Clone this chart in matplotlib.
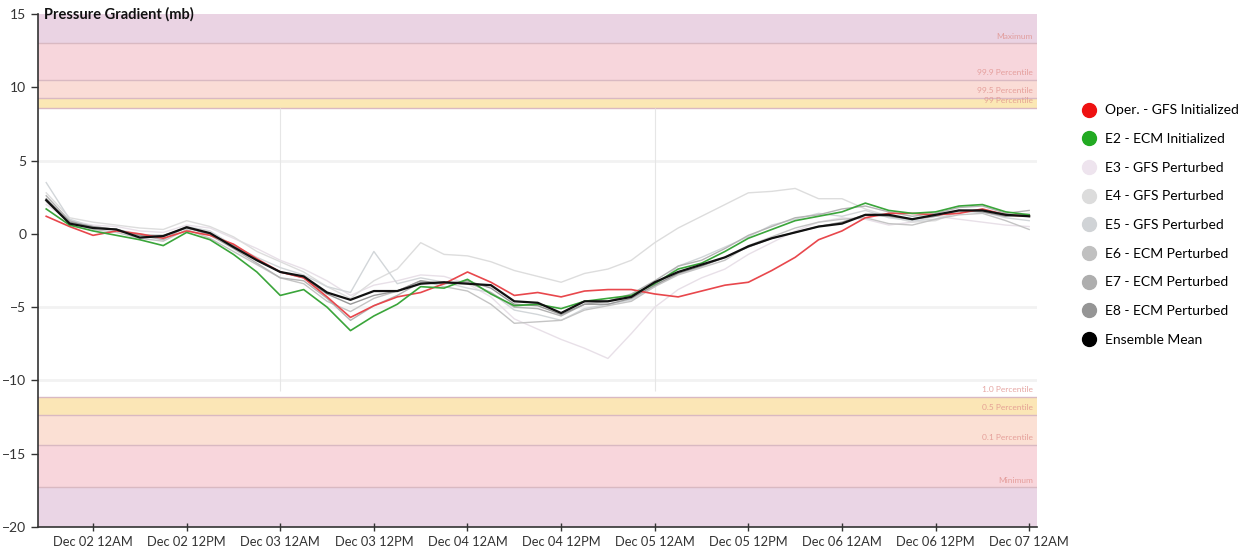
import numpy as np
import matplotlib.pyplot as plt
from matplotlib.lines import Line2D

plt.rcParams['font.family'] = ['Lato', 'DejaVu Sans']

# time axis: hours from Dec 02 00:00, 3-hourly
hours = list(range(-6, 121, 3))

oper_gfs = [1.2, 0.5, -0.1, 0.2, 0.0, -0.3, 0.2, -0.1, -0.7, -1.7, -2.6, -3.0, -4.3, -5.7,
            -4.9, -4.3, -4.0, -3.4, -2.6, -3.3, -4.2, -4.0, -4.3, -3.9, -3.8, -3.8, -4.1,
            -4.3, -3.9, -3.5, -3.3, -2.5, -1.6, -0.4, 0.2, 1.1, 1.4, 1.4, 1.3, 1.4, 1.7, 1.3, 1.2]
e2_ecm = [1.7, 0.6, 0.2, -0.1, -0.4, -0.8, 0.1, -0.4, -1.4, -2.6, -4.2, -3.8, -5.0, -6.6,
          -5.6, -4.8, -3.6, -3.7, -3.1, -4.1, -4.9, -4.8, -5.1, -4.6, -4.4, -4.2, -3.4,
          -2.4, -2.0, -1.2, -0.3, 0.3, 0.9, 1.2, 1.5, 2.1, 1.6, 1.4, 1.5, 1.9, 2.0, 1.5, 1.3]
e3_gfs = [2.0, 0.9, 0.6, 0.5, 0.2, 0.1, 0.6, 0.4, -0.3, -1.0, -1.8, -2.4, -3.2, -4.2,
          -3.5, -3.2, -2.8, -2.9, -3.4, -4.3, -5.8, -6.5, -7.2, -7.8, -8.5, -6.8, -5.0,
          -3.8, -3.0, -2.4, -1.4, -0.6, 0.2, 0.8, 1.1, 1.0, 0.6, 0.8, 1.2, 1.0, 0.8, 0.6, 0.5]
e4_gfs = [2.8, 1.1, 0.8, 0.6, 0.4, 0.3, 0.9, 0.5, -0.2, -1.2, -1.9, -2.6, -3.6, -4.4,
          -3.2, -2.4, -0.6, -1.4, -1.5, -1.9, -2.5, -2.9, -3.3, -2.7, -2.4, -1.8, -0.6,
          0.4, 1.2, 2.0, 2.8, 2.9, 3.1, 2.4, 2.4, 1.7, 1.2, 0.8, 0.9, 1.5, 1.6, 1.2, 1.4]
e5_gfs = [3.5, 1.0, 0.5, 0.3, 0.0, -0.2, 0.5, 0.2, -0.8, -1.6, -2.3, -2.8, -3.6, -4.0,
          -1.2, -3.4, -3.0, -3.3, -3.7, -4.0, -5.2, -5.5, -5.9, -5.1, -4.8, -4.5, -3.6,
          -2.2, -1.6, -0.9, -0.2, 0.6, 1.0, 1.4, 1.2, 1.6, 1.1, 0.9, 1.0, 1.5, 1.5, 1.1, 0.9]
e6_ecm = [2.2, 0.8, 0.3, 0.1, -0.3, -0.5, 0.3, -0.3, -1.2, -2.1, -3.0, -3.4, -4.6, -5.3,
          -4.4, -3.9, -3.2, -3.6, -3.9, -4.8, -6.1, -6.0, -5.9, -5.2, -4.9, -4.6, -3.6,
          -2.8, -2.3, -1.8, -0.8, -0.2, 0.4, 0.8, 1.0, 1.1, 0.7, 0.6, 1.0, 1.3, 1.4, 0.9, 0.3]
e7_ecm = [2.6, 0.9, 0.4, 0.3, -0.1, -0.4, 0.5, -0.1, -1.0, -2.0, -3.0, -3.2, -4.4, -5.9,
          -4.9, -4.2, -3.3, -3.4, -3.3, -4.0, -5.0, -5.1, -5.6, -4.8, -4.6, -4.1, -3.2,
          -2.2, -1.8, -1.0, -0.1, 0.5, 1.1, 1.3, 1.7, 1.9, 1.5, 1.2, 1.4, 1.8, 1.9, 1.4, 1.6]
e8_ecm = [2.4, 0.8, 0.5, 0.3, -0.1, -0.1, 0.4, 0.0, -0.8, -1.8, -2.6, -3.0, -4.1, -4.8,
          -4.2, -3.9, -3.2, -3.4, -3.2, -3.7, -4.8, -4.9, -5.5, -4.8, -4.8, -4.4, -3.5,
          -2.7, -2.2, -1.6, -0.9, -0.3, 0.1, 0.5, 0.8, 1.3, 1.2, 1.0, 1.2, 1.6, 1.5, 1.2, 1.3]
ens_mean = [2.3, 0.7, 0.4, 0.3, -0.25, -0.15, 0.45, 0.05, -0.9, -1.8, -2.6, -2.9, -4.0, -4.5,
            -3.9, -3.9, -3.4, -3.3, -3.4, -3.5, -4.6, -4.7, -5.4, -4.6, -4.6, -4.3, -3.3,
            -2.6, -2.1, -1.6, -0.85, -0.3, 0.1, 0.5, 0.7, 1.3, 1.3, 1.0, 1.3, 1.6, 1.6, 1.3, 1.2]

series_names = ['Oper. - GFS Initialized', 'E2 - ECM Initialized', 'E3 - GFS Perturbed',
                'E4 - GFS Perturbed', 'E5 - GFS Perturbed', 'E6 - ECM Perturbed',
                'E7 - ECM Perturbed', 'E8 - ECM Perturbed', 'Ensemble Mean']
series_data = [oper_gfs, e2_ecm, e3_gfs, e4_gfs, e5_gfs, e6_ecm, e7_ecm, e8_ecm, ens_mean]
series_colors = ['#e8474c', '#3aa53a', '#e8e0e8', '#dddddd', '#d2d6d9', '#c4c4c4',
                 '#b3b3b3', '#989898', '#111111']
legend_colors = ['#ee1111', '#22aa22', '#eee4ee', '#dcdcdc', '#d0d3d6', '#c0c0c0',
                 '#aeaeae', '#959595', '#000000']

# percentile bands (bottom, top, colour) and threshold labels
band_edges = [(13.0, 15.0, '#ead3e3'), (10.5, 13.0, '#f7d6dc'), (9.3, 10.5, '#fadcd6'),
              (8.6, 9.3, '#fbe8b4'), (-12.35, -11.1, '#fbe6b6'), (-14.4, -12.35, '#fbe0d4'),
              (-17.3, -14.4, '#f8d6dc'), (-20.0, -17.3, '#ead5e5')]
thresholds = [13.0, 10.5, 9.3, 8.6, -11.1, -12.35, -14.4, -17.3]
threshold_labels = ['Maximum', '99.9 Percentile', '99.5 Percentile', '99 Percentile',
                    '1.0 Percentile', '0.5 Percentile', '0.1 Percentile', 'Minimum']

xtick_hours = list(range(0, 121, 12))
xtick_labels = ['Dec 02 12AM', 'Dec 02 12PM', 'Dec 03 12AM', 'Dec 03 12PM', 'Dec 04 12AM',
                'Dec 04 12PM', 'Dec 05 12AM', 'Dec 05 12PM', 'Dec 06 12AM', 'Dec 06 12PM',
                'Dec 07 12AM']

fig = plt.figure(figsize=(12.55, 5.54), dpi=100)
ax = fig.add_axes([0.0303, 0.0487, 0.796, 0.926])
xmin, xmax = -7.05, 121.0

for lo, hi, c in band_edges:
    ax.axhspan(lo, hi, color=c, lw=0, zorder=0)
for t, lab in zip(thresholds, threshold_labels):
    ax.axhline(t, color='#d9b9c2', lw=1.0, zorder=1)
    ax.text(xmax - 0.5, t + 0.25, lab, ha='right', va='bottom', fontsize=6,
            color='#e0908c', alpha=0.8, zorder=2)

for g in [5, -5, -10]:
    ax.axhline(g, color='#f2f2f2', lw=2, zorder=1)
ax.vlines([24, 72], -10.7, 8.6, color='#e6e6e6', lw=0.8, zorder=1)

# draw faint perturbed members first, then highlighted series
order = [2, 3, 4, 5, 6, 7, 0, 1, 8]
for i in order:
    lw = 1.6 if i == 8 else (1.2 if i < 2 else 1.0)
    ax.plot(hours, series_data[i], color=series_colors[i], lw=lw, zorder=3 + order.index(i))

ax.set_xlim(xmin, xmax)
ax.set_ylim(-20, 15)
ax.set_yticks([15, 10, 5, 0, -5, -10, -15, -20])
ax.set_xticks(xtick_hours)
ax.set_xticklabels(xtick_labels)
ax.tick_params(axis='y', direction='out', length=5, labelsize=10, colors='#333333', width=1)
ax.tick_params(axis='x', direction='inout', length=6, labelsize=9.3, colors='#333333', width=1)
for s in ['top', 'right']:
    ax.spines[s].set_visible(False)
for s in ['left', 'bottom']:
    ax.spines[s].set_color('#333333')
    ax.spines[s].set_linewidth(1.2)

ax.text(-6.3, 15, 'Pressure Gradient (mb)', fontsize=10.5, fontweight='bold',
        color='#111111', ha='left', va='center', zorder=10)

handles = [Line2D([], [], marker='o', ls='', markersize=10, color=c) for c in legend_colors]
fig.legend(handles, series_names, loc='upper left', bbox_to_anchor=(0.852, 0.834),
           frameon=False, fontsize=10, labelspacing=1.2, handletextpad=0.7,
           handlelength=1.0)

fig.savefig('out.png', dpi=100)
